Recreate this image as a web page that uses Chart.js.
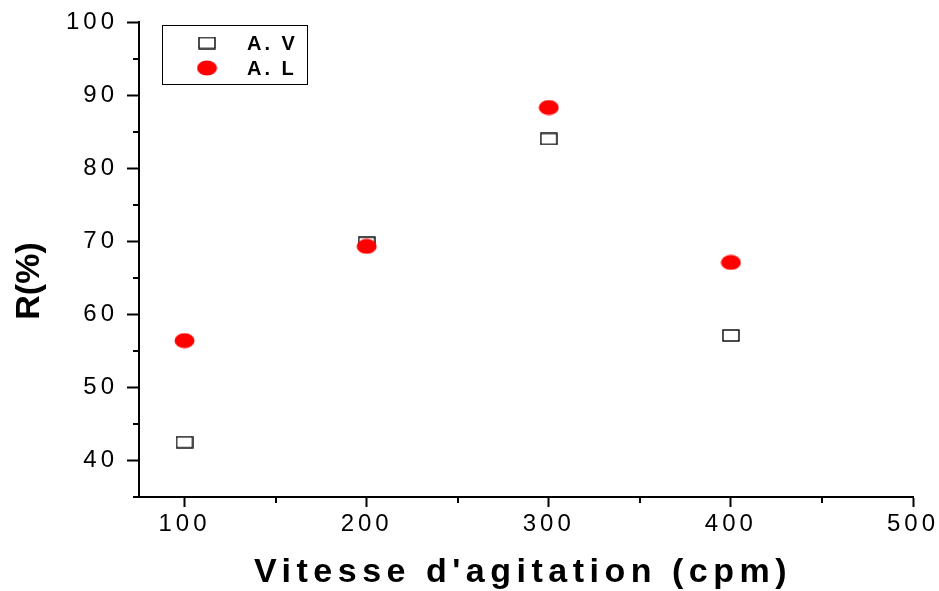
<!DOCTYPE html>
<html>
<head>
<meta charset="utf-8">
<script src="https://cdn.jsdelivr.net/npm/chart.js@4.4.1/dist/chart.umd.min.js"></script>
<style>
  html, body { margin: 0; padding: 0; background: #fff; }
  #wrap { width: 939px; height: 591px; }
</style>
</head>
<body>
<div id="wrap"><canvas id="chart"></canvas></div>
<script>
// data
const speeds = [100, 200, 300, 400];
const avValues = [42.5, 69.8, 84.0, 57.1];
const alValues = [56.4, 69.3, 88.3, 67.1];
const xMajorTicks = [100, 200, 300, 400, 500];
const xMinorTicks = [150, 250, 350, 450];
const yMajorTicks = [40, 50, 60, 70, 80, 90, 100];
const yMinorTicks = [35, 45, 55, 65, 75, 85, 95];
const seriesLabels = ['A. V', 'A. L'];
const xTitle = "Vitesse d'agitation (cpm)";
const yTitle = 'R(%)';

const FONT = "'Liberation Sans', Arial, sans-serif";

// marker images: hollow square and red ellipse
const makeSquare = () => {
    const c = document.createElement('canvas');
    c.width = 18; c.height = 13;
    const g = c.getContext('2d');
    g.fillStyle = '#fff';
    g.fillRect(1, 1, 16, 11);
    g.strokeStyle = '#000';
    g.lineWidth = 1.4;
    g.strokeRect(1, 1, 16, 11);
    return c;
};
const makeEllipse = () => {
    const c = document.createElement('canvas');
    c.width = 21; c.height = 16;
    const g = c.getContext('2d');
    g.fillStyle = '#ff0000';
    g.beginPath();
    g.ellipse(10.5, 8, 10, 7.5, 0, 0, Math.PI * 2);
    g.fill();
    return c;
};
const squareImg = makeSquare();
const ellipseImg = makeEllipse();

const toPoints = (xs, ys) => xs.map((x, i) => ({ x: x, y: ys[i] }));

// tick labels are letter spaced, the canvas state is reset on resize so set it each time
const spacingPlugin = {
    id: 'spacing',
    beforeLayout(chart) { chart.ctx.letterSpacing = '4px'; },
    beforeDraw(chart) { chart.ctx.letterSpacing = '4px'; }
};

// minor ticks, titles and the boxed legend
const decorPlugin = {
    id: 'decor',
    afterDraw(chart) {
        const ctx = chart.ctx;
        const xs = chart.scales.x;
        const ys = chart.scales.y;
        const area = chart.chartArea;
        ctx.save();
        ctx.strokeStyle = '#000';
        ctx.lineWidth = 2;
        ctx.beginPath();
        xMinorTicks.forEach(v => {
            const px = Math.round(xs.getPixelForValue(v));
            ctx.moveTo(px, area.bottom);
            ctx.lineTo(px, area.bottom + 6);
        });
        yMinorTicks.forEach(v => {
            const py = Math.round(ys.getPixelForValue(v));
            ctx.moveTo(area.left, py);
            ctx.lineTo(area.left - 6, py);
        });
        ctx.stroke();

        // axis titles
        ctx.fillStyle = '#000';
        ctx.textBaseline = 'alphabetic';
        ctx.font = 'bold 34px ' + FONT;
        ctx.letterSpacing = '5.5px';
        ctx.textAlign = 'center';
        ctx.fillText(xTitle, 523, 582);
        ctx.letterSpacing = '0px';
        ctx.translate(39, 281);
        ctx.rotate(-Math.PI / 2);
        ctx.fillText(yTitle, 0, 0);
        ctx.restore();

        // legend box
        ctx.save();
        ctx.strokeStyle = '#000';
        ctx.lineWidth = 1;
        ctx.strokeRect(162.5, 25.5, 145, 59);
        const imgs = [squareImg, ellipseImg];
        const rows = [43, 68];
        ctx.font = 'bold 20px ' + FONT;
        ctx.letterSpacing = '3px';
        ctx.fillStyle = '#000';
        ctx.textAlign = 'left';
        ctx.textBaseline = 'middle';
        seriesLabels.forEach((lab, i) => {
            const img = imgs[i];
            ctx.drawImage(img, 207 - img.width / 2, rows[i] - img.height / 2);
            ctx.fillText(lab, 247, rows[i] + 1);
        });
        ctx.restore();
    }
};

const ctx = document.getElementById('chart').getContext('2d');
new Chart(ctx, {
    type: 'scatter',
    data: {
        datasets: [
            {
                label: seriesLabels[0],
                data: toPoints(speeds, avValues),
                pointStyle: squareImg,
                order: 2
            },
            {
                label: seriesLabels[1],
                data: toPoints(speeds, alValues),
                pointStyle: ellipseImg,
                order: 1
            }
        ]
    },
    options: {
        responsive: true,
        maintainAspectRatio: false,
        animation: false,
        layout: { padding: { left: 0, top: 22, right: 26, bottom: 0 } },
        plugins: {
            legend: { display: false },
            tooltip: { enabled: false }
        },
        scales: {
            x: {
                type: 'linear',
                min: 75,
                max: 500,
                afterBuildTicks: s => { s.ticks = xMajorTicks.map(v => ({ value: v })); },
                afterFit: s => { s.height = 94; s.paddingLeft = 0; s.paddingRight = 0; },
                border: { display: true, color: '#000', width: 2 },
                grid: { drawOnChartArea: false, drawTicks: true, tickLength: 10, tickColor: '#000', tickWidth: 2 },
                ticks: { color: '#000', font: { family: FONT, size: 24 }, padding: 3, maxRotation: 0 }
            },
            y: {
                type: 'linear',
                min: 35,
                max: 100,
                afterBuildTicks: s => { s.ticks = yMajorTicks.map(v => ({ value: v })); },
                afterFit: s => { s.width = 139; s.paddingTop = 0; s.paddingBottom = 0; },
                border: { display: true, color: '#000', width: 2 },
                grid: { drawOnChartArea: false, drawTicks: true, tickLength: 12, tickColor: '#000', tickWidth: 2 },
                ticks: { color: '#000', font: { family: FONT, size: 24 }, padding: 9 }
            }
        }
    },
    plugins: [spacingPlugin, decorPlugin]
});
</script>
</body>
</html>
